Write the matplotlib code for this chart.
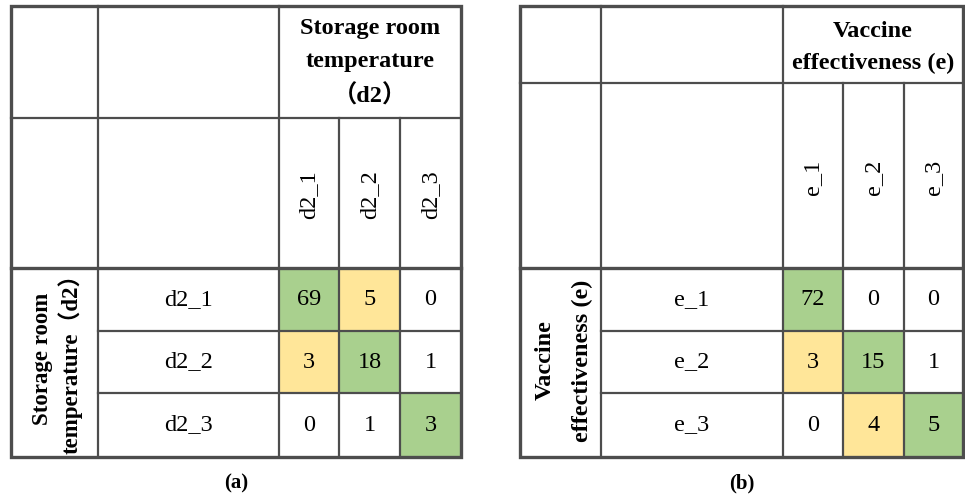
import matplotlib.pyplot as plt
from matplotlib.patches import Rectangle

# confusion matrices for the two predicted attributes
labels_a = ["d2_1", "d2_2", "d2_3"]
matrix_a = [[69, 5, 0],
            [3, 18, 1],
            [0, 1, 3]]
title_a = "Storage room\ntemperature\n（d2）"
side_a = "Storage room\ntemperature（d2）"

labels_b = ["e_1", "e_2", "e_3"]
matrix_b = [[72, 0, 0],
            [3, 15, 1],
            [0, 4, 5]]
title_b = "Vaccine\neffectiveness (e)"
side_b = "Vaccine\neffectiveness (e)"

GREEN = "#a9d08e"
YELLOW = "#ffe699"
LINE = "#4d4d4d"
SERIF = ["Liberation Serif", "Noto Sans CJK SC"]
FS = 17.5

plt.rcParams["font.family"] = SERIF


def draw_matrix(ax, xs, ys, labels, matrix, title, side, tag,
                side_ls=1.15, side_dy=0, side_fs=FS, title_dy=1):
    # xs: left, blank/side split, label/data split, data column splits, right
    # ys: top, title split, header bottom, row splits, bottom
    n = len(labels)
    # cell fills
    for i in range(n):
        for j in range(n):
            v = matrix[i][j]
            if i == j:
                fc = GREEN
            elif v >= 3:
                fc = YELLOW
            else:
                fc = "white"
            x0, x1 = xs[2 + j], xs[3 + j]
            y0, y1 = ys[2 + i], ys[3 + i]
            ax.add_patch(Rectangle((x0, y0), x1 - x0, y1 - y0, fc=fc, ec="none"))
            ax.text((x0 + x1) / 2, (y0 + y1) / 2, str(v), ha="center",
                    va="center", fontsize=FS)

    # grid lines
    lw = 1.6
    ax.plot([xs[0], xs[-1]], [ys[1], ys[1]], color=LINE, lw=lw)
    ax.plot([xs[0], xs[-1]], [ys[2], ys[2]], color=LINE, lw=2.4)
    for y in ys[3:-1]:
        ax.plot([xs[1], xs[-1]], [y, y], color=LINE, lw=lw)
    ax.plot([xs[1], xs[1]], [ys[0], ys[-1]], color=LINE, lw=lw)
    ax.plot([xs[2], xs[2]], [ys[0], ys[-1]], color=LINE, lw=lw)
    for x in xs[3:-1]:
        ax.plot([x, x], [ys[1], ys[-1]], color=LINE, lw=lw)
    ax.add_patch(Rectangle((xs[0], ys[0]), xs[-1] - xs[0], ys[-1] - ys[0],
                           fill=False, ec=LINE, lw=2.4))

    # column header
    ax.text((xs[2] + xs[-1]) / 2, (ys[0] + ys[1]) / 2 + title_dy, title,
            ha="center", va="center", fontsize=FS, fontweight="bold",
            linespacing=1.7)
    for j, lab in enumerate(labels):
        ax.text((xs[2 + j] + xs[3 + j]) / 2, (ys[1] + ys[2]) / 2 + 2, lab,
                ha="center", va="center", rotation=90, fontsize=FS)
    # row header
    ax.text((xs[0] + xs[1]) / 2 + 3, (ys[2] + ys[-1]) / 2 + side_dy, side,
            ha="center", va="center", rotation=90, fontsize=side_fs,
            fontweight="bold", linespacing=side_ls)
    for i, lab in enumerate(labels):
        ax.text((xs[1] + xs[2]) / 2, (ys[2 + i] + ys[3 + i]) / 2, lab,
                ha="center", va="center", fontsize=FS)
    ax.text((xs[0] + xs[-1]) / 2, 483, tag, ha="center", va="center",
            fontsize=15, fontweight="bold")


fig = plt.figure(figsize=(9.65, 4.94), dpi=100)
ax = fig.add_axes([0, 0, 1, 1])
ax.set_xlim(0, 965)
ax.set_ylim(494, 0)
ax.axis("off")

draw_matrix(ax, [11, 98, 279, 339, 400, 461], [6, 118, 268, 331, 393, 457],
            labels_a, matrix_a, title_a, side_a, "(a)",
            side_ls=1.25, side_dy=-4, side_fs=16.5)
draw_matrix(ax, [520, 601, 783, 843, 904, 963], [6, 83, 268, 331, 393, 457],
            labels_b, matrix_b, title_b, side_b, "(b)",
            side_ls=2.0, side_dy=-2, title_dy=3)

fig.savefig("out.png", dpi=100)
